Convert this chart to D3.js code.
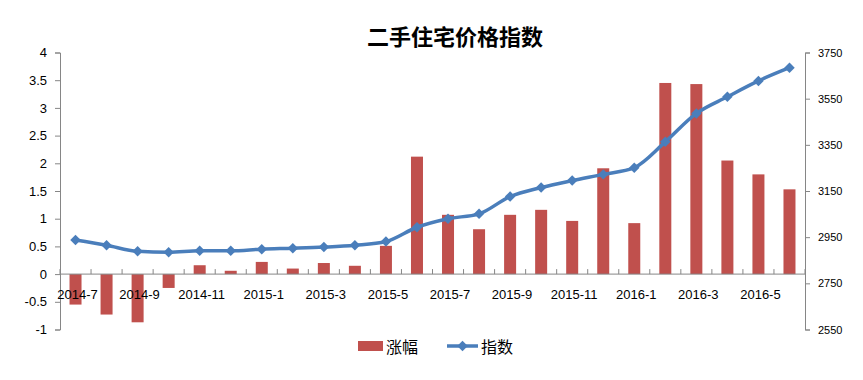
<!DOCTYPE html>
<html><head><meta charset="utf-8">
<script src="https://cdn.jsdelivr.net/npm/d3@7"></script>
<style>body{margin:0;background:#fff}svg{display:block}</style>
</head><body>
<svg id="c" width="863" height="380"></svg>
<script>
const months = ["2014-7","2014-8","2014-9","2014-10","2014-11","2014-12","2015-1","2015-2","2015-3","2015-4","2015-5","2015-6","2015-7","2015-8","2015-9","2015-10","2015-11","2015-12","2016-1","2016-2","2016-3","2016-4","2016-5","2016-6"];
const change = [-0.55,-0.73,-0.87,-0.25,0.16,0.06,0.22,0.10,0.20,0.15,0.51,2.12,1.07,0.81,1.07,1.16,0.96,1.91,0.92,3.45,3.43,2.05,1.80,1.53];
const index = [2938,2915,2889,2885,2891,2891,2898,2902,2907,2915,2931,2993,3030,3051,3126,3165,3195,3222,3251,3363,3486,3558,3627,3684];
const leftTicks = [-1,-0.5,0,0.5,1,1.5,2,2.5,3,3.5,4];
const rightTicks = [2550,2750,2950,3150,3350,3550,3750];
const title = "二手住宅价格指数";
const legendNames = ["涨幅","指数"];

const svg = d3.select("#c");
const L = 60, R = 805, T = 52.5, B = 329.5;
const x = d3.scaleBand().domain(months).range([L, R]);
const yL = d3.scaleLinear().domain([-1, 4]).range([B, T]);
const yR = d3.scaleLinear().domain([2550, 3750]).range([B, T]);
const axisColor = "#868686";
const font = "'Liberation Sans', Arial, sans-serif";

svg.append("text").attr("x", 455).attr("y", 45).attr("text-anchor", "middle")
  .attr("font-family", "'Noto Sans CJK SC', sans-serif").attr("font-weight", "bold")
  .attr("font-size", 22).attr("fill", "#000").text(title);

// left axis
const gl = svg.append("g").attr("transform", `translate(${L},0)`)
  .call(d3.axisLeft(yL).tickValues(leftTicks).tickSize(5).tickPadding(8).tickFormat(d => String(d)));
gl.select(".domain").attr("stroke", axisColor);
gl.selectAll(".tick line").attr("stroke", axisColor);
gl.selectAll("text").attr("font-family", font).attr("font-size", 13).attr("fill", "#000");

// right axis
const gr = svg.append("g").attr("transform", `translate(${R},0)`)
  .call(d3.axisRight(yR).tickValues(rightTicks).tickSize(5).tickPadding(8).tickFormat(d => String(d)));
gr.select(".domain").attr("stroke", axisColor);
gr.selectAll(".tick line").attr("stroke", axisColor);
gr.selectAll("text").attr("font-family", font).attr("font-size", 11).attr("fill", "#000");

// bars
const bw = 12;
svg.append("g").selectAll("rect").data(months).join("rect")
  .attr("x", (d) => x(d) + x.bandwidth() / 2 - bw / 2)
  .attr("width", bw)
  .attr("y", (d, i) => Math.min(yL(change[i]), yL(0)))
  .attr("height", (d, i) => Math.abs(yL(change[i]) - yL(0)))
  .attr("fill", "#C0504D");

// zero category axis
const y0 = yL(0);
svg.append("line").attr("x1", L).attr("x2", R).attr("y1", y0).attr("y2", y0).attr("stroke", axisColor);
svg.append("g").selectAll("line").data(d3.range(months.length + 1)).join("line")
  .attr("x1", i => L + i * x.step()).attr("x2", i => L + i * x.step())
  .attr("y1", y0).attr("y2", y0 - 5).attr("stroke", axisColor);
svg.append("g").selectAll("text").data(months.filter((d, i) => i % 2 === 0)).join("text")
  .attr("x", d => x(d) + x.bandwidth() / 2 + 2).attr("y", y0 + 25)
  .attr("text-anchor", "middle").attr("font-family", font).attr("font-size", 13).attr("fill", "#000")
  .text(d => d);

// line
const lineGen = d3.line().x((d, i) => x(months[i]) + x.bandwidth() / 2).y(d => yR(d)).curve(d3.curveMonotoneX);
svg.append("path").datum(index).attr("d", lineGen).attr("fill", "none")
  .attr("stroke", "#4A7EBB").attr("stroke-width", 3.5).attr("stroke-linejoin", "round");
const diamond = d3.symbol().type(d3.symbolDiamond2).size(70);
svg.append("g").selectAll("path").data(index).join("path")
  .attr("transform", (d, i) => `translate(${x(months[i]) + x.bandwidth() / 2},${yR(d)})`)
  .attr("d", diamond).attr("fill", "#4A7EBB");

// legend
const lg = svg.append("g");
lg.append("rect").attr("x", 358).attr("y", 341).attr("width", 25).attr("height", 10).attr("fill", "#C0504D");
lg.append("text").attr("x", 386).attr("y", 353).attr("font-family", "'Noto Sans CJK SC', sans-serif")
  .attr("font-size", 16).attr("fill", "#000").text(legendNames[0]);
lg.append("line").attr("x1", 447).attr("x2", 478).attr("y1", 346).attr("y2", 346)
  .attr("stroke", "#4A7EBB").attr("stroke-width", 3.5);
lg.append("path").attr("transform", "translate(462.5,346)").attr("d", diamond).attr("fill", "#4A7EBB");
lg.append("text").attr("x", 481).attr("y", 353).attr("font-family", "'Noto Sans CJK SC', sans-serif")
  .attr("font-size", 16).attr("fill", "#000").text(legendNames[1]);
</script>
</body></html>
